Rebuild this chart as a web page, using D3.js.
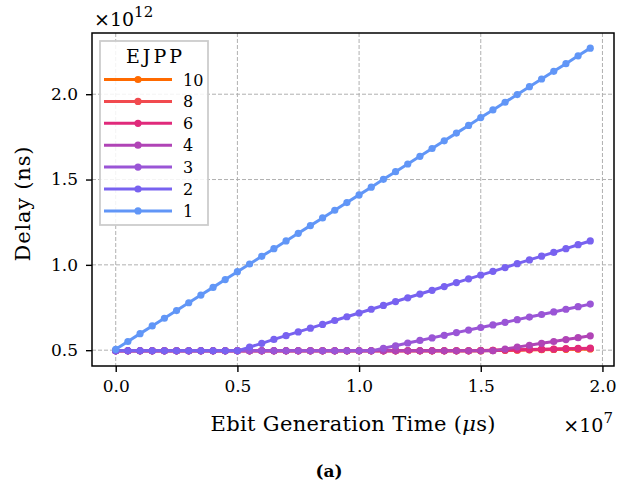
<!DOCTYPE html>
<html>
<head>
<meta charset="utf-8">
<script src="https://cdn.jsdelivr.net/npm/d3@7"></script>
<style>
    body { margin: 0; background: #fff; }
    text { font-family: "DejaVu Serif", serif; fill: #000; }
</style>
</head>
<body>
<div id="lineChart"></div>
<script>
// x values in units of 1e7 us, delays in units of 1e12 ns
const genTime = [0.00, 0.05, 0.10, 0.15, 0.20, 0.25, 0.30, 0.35, 0.40, 0.45,
    0.50, 0.55, 0.60, 0.65, 0.70, 0.75, 0.80, 0.85, 0.90, 0.95,
    1.00, 1.05, 1.10, 1.15, 1.20, 1.25, 1.30, 1.35, 1.40, 1.45,
    1.50, 1.55, 1.60, 1.65, 1.70, 1.75, 1.80, 1.85, 1.90, 1.95];

const ejpp = ["10", "8", "6", "4", "3", "2", "1"];

const delay10 = [0.496, 0.496, 0.496, 0.496, 0.496, 0.496, 0.496, 0.496, 0.496, 0.496,
    0.496, 0.496, 0.496, 0.496, 0.496, 0.496, 0.496, 0.496, 0.496, 0.496,
    0.496, 0.496, 0.496, 0.496, 0.496, 0.496, 0.496, 0.496, 0.496, 0.496,
    0.497, 0.498, 0.499, 0.500, 0.502, 0.503, 0.504, 0.505, 0.506, 0.507];
const delay8 = [0.496, 0.496, 0.496, 0.496, 0.496, 0.496, 0.496, 0.496, 0.496, 0.496,
    0.496, 0.496, 0.496, 0.496, 0.496, 0.496, 0.496, 0.496, 0.496, 0.496,
    0.496, 0.496, 0.496, 0.496, 0.496, 0.496, 0.496, 0.496, 0.496, 0.496,
    0.497, 0.499, 0.500, 0.501, 0.503, 0.504, 0.505, 0.507, 0.508, 0.509];
const delay6 = [0.496, 0.496, 0.496, 0.496, 0.496, 0.496, 0.496, 0.496, 0.496, 0.496,
    0.496, 0.496, 0.496, 0.496, 0.496, 0.496, 0.496, 0.496, 0.496, 0.496,
    0.496, 0.496, 0.496, 0.496, 0.496, 0.496, 0.496, 0.496, 0.496, 0.496,
    0.498, 0.499, 0.501, 0.503, 0.504, 0.506, 0.507, 0.509, 0.510, 0.512];
const delay4 = [0.496, 0.496, 0.496, 0.496, 0.496, 0.496, 0.496, 0.496, 0.496, 0.496,
    0.496, 0.496, 0.496, 0.496, 0.496, 0.496, 0.496, 0.496, 0.496, 0.496,
    0.496, 0.496, 0.496, 0.496, 0.496, 0.496, 0.496, 0.496, 0.496, 0.496,
    0.496, 0.496, 0.507, 0.518, 0.529, 0.540, 0.551, 0.562, 0.573, 0.584];
const delay3 = [0.496, 0.496, 0.496, 0.496, 0.496, 0.496, 0.496, 0.496, 0.496, 0.496,
    0.496, 0.496, 0.496, 0.496, 0.496, 0.496, 0.496, 0.496, 0.496, 0.496,
    0.496, 0.496, 0.511, 0.526, 0.542, 0.557, 0.572, 0.587, 0.603, 0.618,
    0.633, 0.648, 0.663, 0.679, 0.694, 0.709, 0.724, 0.740, 0.755, 0.770];
const delay2 = [0.496, 0.496, 0.496, 0.496, 0.496, 0.496, 0.496, 0.496, 0.496, 0.496,
    0.496, 0.518, 0.540, 0.563, 0.585, 0.607, 0.629, 0.651, 0.674, 0.696,
    0.718, 0.740, 0.762, 0.785, 0.807, 0.829, 0.851, 0.873, 0.896, 0.918,
    0.940, 0.962, 0.984, 1.007, 1.029, 1.051, 1.073, 1.095, 1.118, 1.140];
const delay1 = [0.505, 0.551, 0.597, 0.642, 0.687, 0.732, 0.778, 0.823, 0.868, 0.914,
    0.960, 1.005, 1.050, 1.095, 1.140, 1.185, 1.230, 1.275, 1.320, 1.365,
    1.410, 1.455, 1.501, 1.546, 1.591, 1.636, 1.682, 1.727, 1.772, 1.817,
    1.863, 1.908, 1.953, 1.998, 2.044, 2.089, 2.134, 2.179, 2.225, 2.270];

const colors = ["#ff6a00", "#f14a4f", "#e02a7b", "#b044b6", "#9a55d6", "#7862f0", "#6196f7"];

const xTicks = [0.0, 0.5, 1.0, 1.5, 2.0];
const yTicks = [0.5, 1.0, 1.5, 2.0];

function createLineChart() {
    const width = 619;
    const height = 483;
    const plot = { left: 92, right: 614, top: 33, bottom: 366 };

    const series = [delay10, delay8, delay6, delay4, delay3, delay2, delay1];

    const svg = d3.select("#lineChart")
        .append("svg")
        .attr("width", width)
        .attr("height", height);

    const x = d3.scaleLinear().domain([-0.0975, 2.0475]).range([plot.left, plot.right]);
    const y = d3.scaleLinear().domain([0.4073, 2.3587]).range([plot.bottom, plot.top]);

    // grid
    svg.append("g")
        .selectAll("line")
        .data(xTicks)
        .enter()
        .append("line")
        .attr("x1", d => x(d)).attr("x2", d => x(d))
        .attr("y1", plot.top).attr("y2", plot.bottom)
        .attr("stroke", "#b0b0b0").attr("stroke-width", 1)
        .attr("stroke-dasharray", "4,2");

    svg.append("g")
        .selectAll("line")
        .data(yTicks)
        .enter()
        .append("line")
        .attr("x1", plot.left).attr("x2", plot.right)
        .attr("y1", d => y(d)).attr("y2", d => y(d))
        .attr("stroke", "#b0b0b0").attr("stroke-width", 1)
        .attr("stroke-dasharray", "4,2");

    // axes
    const xAxis = svg.append("g")
        .attr("transform", "translate(0," + plot.bottom + ")")
        .call(d3.axisBottom(x).tickValues(xTicks).tickFormat(d3.format(".1f")).tickSize(6).tickPadding(8));

    const yAxis = svg.append("g")
        .attr("transform", "translate(" + plot.left + ",0)")
        .call(d3.axisLeft(y).tickValues(yTicks).tickFormat(d3.format(".1f")).tickSize(6).tickPadding(8));

    [xAxis, yAxis].forEach(a => {
        a.select(".domain").remove();
        a.selectAll(".tick line").attr("stroke", "#000").attr("stroke-width", 1.4);
        a.selectAll(".tick text")
            .attr("font-size", "17px")
            .attr("fill", "#000");
    });

    // lines
    const line = d3.line()
        .x((d, i) => x(genTime[i]))
        .y(d => y(d));

    series.forEach((s, k) => {
        const g = svg.append("g");
        g.append("path")
            .datum(s)
            .attr("d", line)
            .attr("fill", "none")
            .attr("stroke", colors[k])
            .attr("stroke-width", 3);
        g.selectAll("circle")
            .data(s)
            .enter()
            .append("circle")
            .attr("cx", (d, i) => x(genTime[i]))
            .attr("cy", d => y(d))
            .attr("r", 3.6)
            .attr("fill", colors[k]);
    });

    // frame
    svg.append("rect")
        .attr("x", plot.left).attr("y", plot.top)
        .attr("width", plot.right - plot.left)
        .attr("height", plot.bottom - plot.top)
        .attr("fill", "none")
        .attr("stroke", "#000")
        .attr("stroke-width", 1.5);

    // legend
    const legend = svg.append("g").attr("transform", "translate(100,41)");
    legend.append("rect")
        .attr("width", 108).attr("height", 184)
        .attr("fill", "#fff").attr("fill-opacity", 0.85)
        .attr("stroke", "#cccccc").attr("stroke-width", 1.8);
    legend.append("text")
        .attr("x", 54).attr("y", 22)
        .attr("text-anchor", "middle")
        .attr("font-size", "19px")
        .attr("textLength", 56).attr("lengthAdjust", "spacing")
        .text("EJPP");

    const items = legend.selectAll(".legend")
        .data(ejpp)
        .enter()
        .append("g")
        .attr("class", "legend")
        .attr("transform", (d, i) => "translate(0," + (38.5 + i * 21.9) + ")");
    items.append("line")
        .attr("x1", 4).attr("x2", 72)
        .attr("stroke", (d, i) => colors[i])
        .attr("stroke-width", 3);
    items.append("circle")
        .attr("cx", 38).attr("r", 3.6)
        .attr("fill", (d, i) => colors[i]);
    items.append("text")
        .attr("x", 83).attr("y", 6)
        .attr("font-size", "16px")
        .text(d => d);

    // labels
    svg.append("text")
        .attr("x", 353).attr("y", 431)
        .attr("text-anchor", "middle")
        .attr("font-size", "21px")
        .attr("textLength", 285).attr("lengthAdjust", "spacing")
        .html('Ebit Generation Time (<tspan font-style="italic">μ</tspan>s)');

    svg.append("text")
        .attr("transform", "translate(30,204) rotate(-90)")
        .attr("text-anchor", "middle")
        .attr("font-size", "21px")
        .attr("textLength", 115).attr("lengthAdjust", "spacing")
        .text("Delay (ns)");

    svg.append("text")
        .attr("x", 94).attr("y", 26)
        .attr("font-size", "19px")
        .html('×10<tspan dy="-9" font-size="15px">12</tspan>');

    svg.append("text")
        .attr("x", 613).attr("y", 432)
        .attr("text-anchor", "end")
        .attr("font-size", "19px")
        .html('×10<tspan dy="-9" font-size="15px">7</tspan>');

    svg.append("text")
        .attr("x", 329).attr("y", 477)
        .attr("text-anchor", "middle")
        .attr("font-size", "17px")
        .attr("font-weight", "bold")
        .text("(a)");
}

createLineChart();
</script>
</body>
</html>
